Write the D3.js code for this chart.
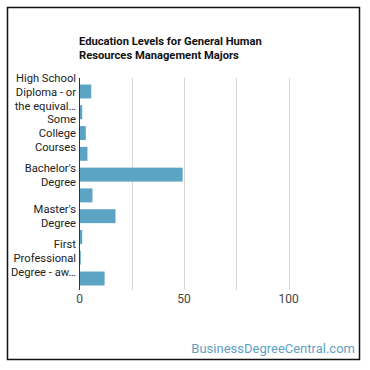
<!DOCTYPE html>
<html>
<head>
<meta charset="utf-8">
<script src="https://cdn.jsdelivr.net/npm/d3@7"></script>
<style>
  body { margin: 0; background: #fff; }
  svg { font-family: Roboto, "Noto Sans", sans-serif; }
</style>
</head>
<body>
<svg id="chart" width="370" height="370"></svg>
<script>
// education levels, in chart order
const categories = [
    "High School Diploma - or the equivalent (for example: GED)",
    "Post-Secondary Certificate",
    "Some College Courses",
    "Associate's Degree (or other 2-year degree)",
    "Bachelor's Degree",
    "Post-Baccalaureate Certificate",
    "Master's Degree",
    "Post-Master's Certificate",
    "First Professional Degree - awarded for completion of a program",
    "Doctoral Degree"
];
// label lines shown on the axis (every other category)
const shownLabels = [
    ["High School", "Diploma - or", "the equival…"],
    null,
    ["Some", "College", "Courses"],
    null,
    ["Bachelor's", "Degree"],
    null,
    ["Master's", "Degree"],
    null,
    ["First", "Professional", "Degree - aw…"],
    null
];
const values = [5.6, 1.3, 3.0, 3.8, 49.3, 6.2, 17.2, 1.3, 0.6, 12.0];
const ticks = [0, 50, 100];
const gridTicks = [0, 25, 50, 75, 100];

const svg = d3.select("#chart");

// frame
svg.append("rect")
    .attr("x", 7.5).attr("y", 7.5)
    .attr("width", 352).attr("height", 352)
    .attr("fill", "none")
    .attr("stroke", "#111")
    .attr("stroke-width", 1.5);

const x = d3.scaleLinear().domain([0, 125]).range([79.5, 341]);
const y = d3.scaleBand().domain(d3.range(categories.length))
    .range([81, 289]).paddingInner(0.33).paddingOuter(0.17);

// title
svg.append("text")
    .attr("x", 79).attr("y", 45)
    .attr("font-size", 11.2).attr("font-weight", "bold").attr("fill", "#111")
    .selectAll("tspan")
    .data(["Education Levels for General Human", "Resources Management Majors"])
    .join("tspan")
    .attr("x", 79)
    .attr("dy", (d, i) => i ? 13.5 : 0)
    .text(d => d);

// gridlines
svg.append("g")
    .selectAll("line")
    .data(gridTicks.slice(1))
    .join("line")
    .attr("x1", d => Math.round(x(d)) + 0.5)
    .attr("x2", d => Math.round(x(d)) + 0.5)
    .attr("y1", 78).attr("y2", 290)
    .attr("stroke", "#d6d6d6");

// bars
svg.append("g")
    .selectAll("rect")
    .data(values)
    .join("rect")
    .attr("x", x(0))
    .attr("y", (d, i) => y(i))
    .attr("width", d => x(d) - x(0))
    .attr("height", y.bandwidth())
    .attr("fill", "#5ba4c4");

// baseline
svg.append("line")
    .attr("x1", 79.5).attr("x2", 79.5)
    .attr("y1", 78).attr("y2", 290)
    .attr("stroke", "#333");

// x tick labels
svg.append("g")
    .selectAll("text")
    .data(ticks)
    .join("text")
    .attr("x", d => x(d))
    .attr("y", 303)
    .attr("text-anchor", "middle")
    .attr("font-size", 12)
    .attr("fill", "#444")
    .text(d => d);

// category labels
const lab = svg.append("g")
    .selectAll("text")
    .data(shownLabels.map((l, i) => ({ l, i })).filter(d => d.l))
    .join("text")
    .attr("text-anchor", "end")
    .attr("font-size", 11.2)
    .attr("fill", "#222");

lab.selectAll("tspan")
    .data(d => d.l.map((t, k) => ({ t, k, n: d.l.length, i: d.i })))
    .join("tspan")
    .attr("x", 76)
    .attr("y", d => y(d.i) + y.bandwidth() / 2 + 4.2 + (d.k - (d.n - 1) / 2) * 14)
    .text(d => d.t);

// watermark
svg.append("text")
    .attr("x", 355).attr("y", 353)
    .attr("text-anchor", "end")
    .attr("font-size", 13)
    .attr("fill", "#5f9fc4")
    .text("BusinessDegreeCentral.com");
</script>
</body>
</html>
